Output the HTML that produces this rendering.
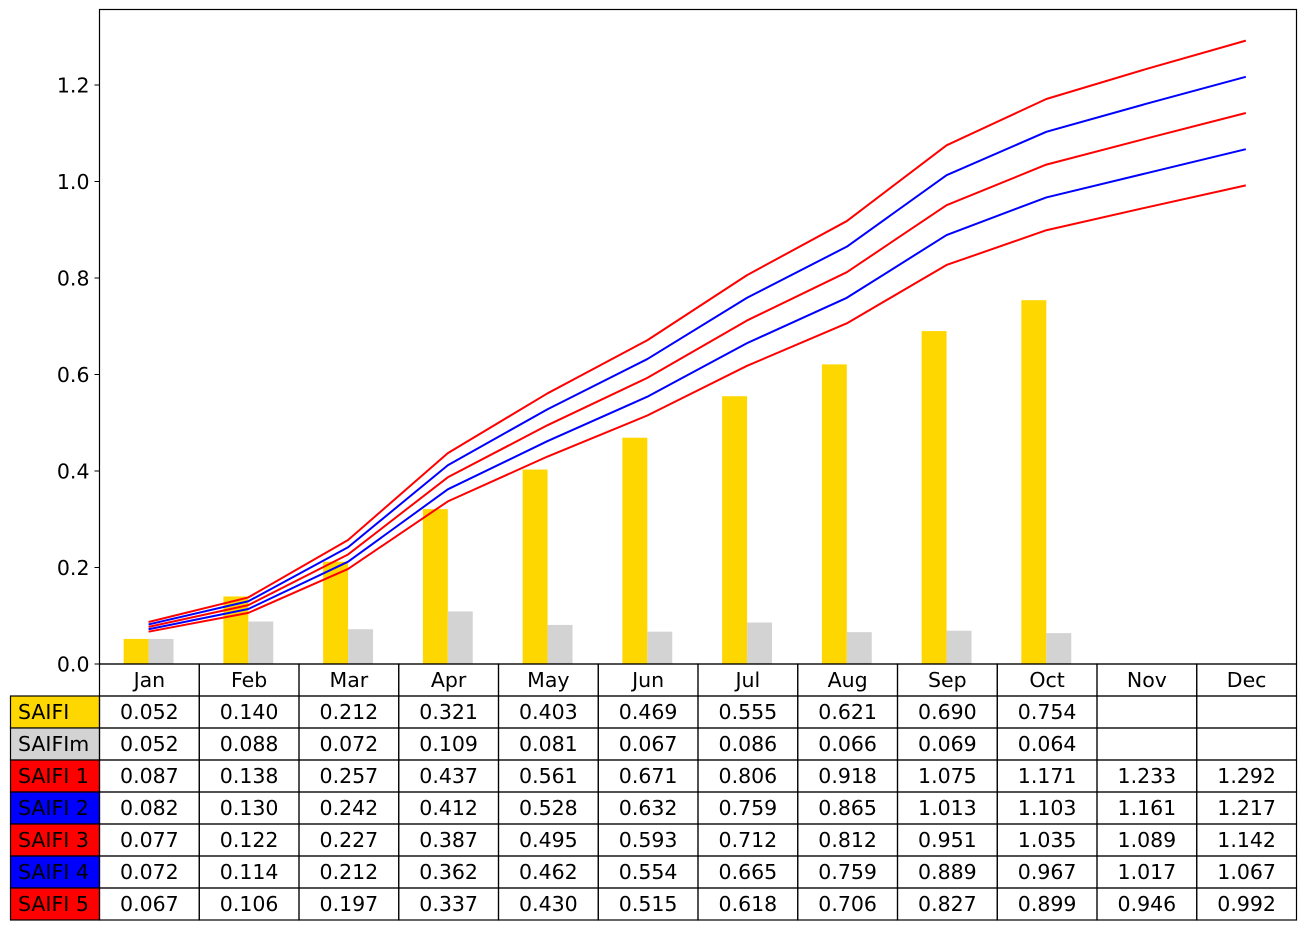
<!DOCTYPE html>
<html><head><meta charset="utf-8"><style>
body{margin:0;background:#fff}
svg{display:block;font-family:"DejaVu Sans","Liberation Sans",sans-serif}
</style></head><body>
<svg id="c" width="1305" height="930"></svg>
<script>
const months=["Jan","Feb","Mar","Apr","May","Jun","Jul","Aug","Sep","Oct","Nov","Dec"];
const saifi=[0.052,0.140,0.212,0.321,0.403,0.469,0.555,0.621,0.690,0.754,null,null];
const saifim=[0.052,0.088,0.072,0.109,0.081,0.067,0.086,0.066,0.069,0.064,null,null];
const s1=[0.087,0.138,0.257,0.437,0.561,0.671,0.806,0.918,1.075,1.171,1.233,1.292];
const s2=[0.082,0.130,0.242,0.412,0.528,0.632,0.759,0.865,1.013,1.103,1.161,1.217];
const s3=[0.077,0.122,0.227,0.387,0.495,0.593,0.712,0.812,0.951,1.035,1.089,1.142];
const s4=[0.072,0.114,0.212,0.362,0.462,0.554,0.665,0.759,0.889,0.967,1.017,1.067];
const s5=[0.067,0.106,0.197,0.337,0.430,0.515,0.618,0.706,0.827,0.899,0.946,0.992];
const yTicks=[0,0.2,0.4,0.6,0.8,1.0,1.2];
const rowNames=["SAIFI","SAIFIm","SAIFI 1","SAIFI 2","SAIFI 3","SAIFI 4","SAIFI 5"];
const rowColors=["#ffd700","#d3d3d3","#ff0000","#0000ff","#ff0000","#0000ff","#ff0000"];
const rows=[saifi,saifim,s1,s2,s3,s4,s5];

const NS="http://www.w3.org/2000/svg";
const svg=document.getElementById('c');
const L=99.5,R=1296.5,T=9.5,B=664;
const cw=(R-L)/12;
const FS=20.5;
function X(i){return L+cw*(i+0.5);}
function Y(v){return B-v*482.5;}
function mk(t,a,p){const e=document.createElementNS(NS,t);for(const k in a)e.setAttribute(k,a[k]);(p||svg).appendChild(e);return e;}

months.forEach((m,i)=>{
  if(saifi[i]!=null){
    const b=mk('rect',{x:X(i)-cw*0.25-0.8,y:Y(saifi[i]),width:cw*0.25,height:B-Y(saifi[i]),fill:'#ffd700'});
    
    
  }
  if(saifim[i]!=null){
    const b=mk('rect',{x:X(i)-0.8,y:Y(saifim[i]),width:cw*0.25,height:B-Y(saifim[i]),fill:'#d3d3d3'});
    
    
  }
});
[s1,s2,s3,s4,s5].forEach((s,k)=>{
  const p=mk('polyline',{points:s.map((v,i)=>(X(i)-0.8)+','+Y(v)).join(' '),fill:'none',stroke:rowColors[k+2],'stroke-width':2,'stroke-linejoin':'round'});
  
  
});
const fr=mk('rect',{x:L,y:T,width:R-L,height:B-T,fill:'none',stroke:'#000','stroke-width':1.2});


yTicks.forEach(v=>{
  mk('line',{x1:L-5,x2:L,y1:Y(v),y2:Y(v),stroke:'#000','stroke-width':1});
  const t=mk('text',{x:L-10,y:Y(v)+7.5,'text-anchor':'end','font-size':FS});
  t.textContent=v.toFixed(1);
  
  
});
const rh=32;
const tb=mk('g',{});


months.forEach((m,i)=>{
  mk('rect',{x:L+cw*i,y:B,width:cw,height:rh,fill:'none',stroke:'#000','stroke-width':1.2},tb);
  const t=mk('text',{x:X(i),y:B+23,'text-anchor':'middle','font-size':FS},tb);
  t.textContent=m;
  
  
});
rows.forEach((r,j)=>{
  const y0=B+rh*(j+1);
  mk('rect',{x:10.5,y:y0,width:L-10.5,height:rh,fill:rowColors[j],stroke:'#000','stroke-width':1.2},tb);
  const lt=mk('text',{x:18,y:y0+23,'font-size':FS},tb);
  lt.textContent=rowNames[j];
  
  
  r.forEach((v,i)=>{
    mk('rect',{x:L+cw*i,y:y0,width:cw,height:rh,fill:'none',stroke:'#000','stroke-width':1.2},tb);
    if(v!=null){
      const t=mk('text',{x:X(i),y:y0+23,'text-anchor':'middle','font-size':FS},tb);
      t.textContent=v.toFixed(3);
      
      
    }
  });
});
</script>
</body></html>
